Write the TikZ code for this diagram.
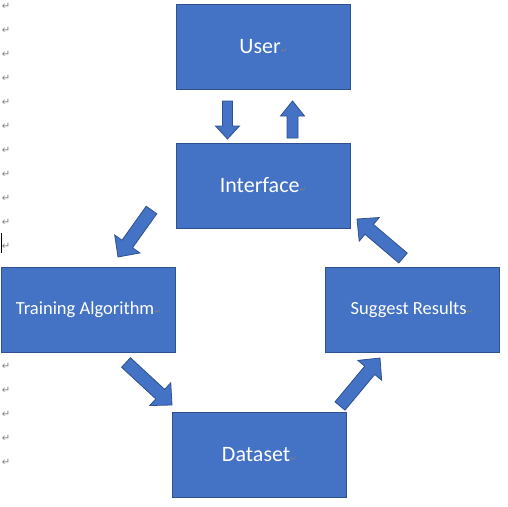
\documentclass[tikz,border=0pt]{standalone}
\usepackage{fontspec}
\setmainfont{Carlito}
\newfontfamily\markfont{DejaVu Sans}
\usetikzlibrary{calc}

\definecolor{boxblue}{HTML}{4472C4}
\definecolor{boxedge}{HTML}{2F528F}
\definecolor{markgray}{HTML}{7F7F7F}

% paragraph mark
\newcommand{\pmark}{{\markfont\fontsize{8}{8}\selectfont\color{markgray}\char"21B5}}

% block arrow: tail, tip, shaft half width, head half width, head length
\newcommand{\blockarrow}[5]{%
  \draw[barrow] let \p1=($(#2)-(#1)$), \n1={atan2(\y1,\x1)}, \n2={veclen(\x1,\y1)} in
    [shift={(#1)}, rotate=\n1]
    (0pt,-#3pt) -- ({\n2-#5pt},-#3pt) -- ({\n2-#5pt},-#4pt) -- (\n2,0pt)
    -- ({\n2-#5pt},#4pt) -- ({\n2-#5pt},#3pt) -- (0pt,#3pt) -- cycle;}

\tikzset{
  box/.style={draw=boxedge, fill=boxblue, line width=1pt, minimum width=174pt,
    minimum height=85pt, inner sep=0pt, text=white, font=\fontsize{22}{26}\selectfont},
  smallbox/.style={box, font=\fontsize{18.5}{22}\selectfont},
  barrow/.style={draw=boxedge, fill=boxblue, line width=0.8pt, line join=miter},
  marginmark/.style={inner sep=0pt, text=markgray, font=\markfont\fontsize{10}{10}\selectfont},
}

\begin{document}
\begin{tikzpicture}[x=1pt, y=-1pt]
            \useasboundingbox (0,0) rectangle (508,506);

            % Paragraph marks in the margin
            \foreach \k in {0,...,19}
                \node[marginmark] (mark\k) at (6,{6+24*\k}) {\char"21B5};
            \coordinate (cur_a) at (1.5,233);
            \coordinate (cur_b) at (1.5,253);
            \draw[line width=1pt] (cur_a) -- (cur_b);

            % Boxes
            \node[box] (user) at (263.5,47) {User\pmark};
            \node[box] (iface) at (263,185.5) {Interface\pmark};
            \node[smallbox] (train) at (88.5,310) {Training Algorithm\pmark};
            \node[smallbox] (suggest) at (412,309.5) {Suggest Results\pmark};
            \node[box] (data) at (259.5,455) {Dataset\pmark};

            % Arrow ends
            \coordinate (A_down_s) at (227.5,101);
            \coordinate (A_down_e) at (227.5,139);
            \coordinate (A_up_s) at (292.5,138);
            \coordinate (A_up_e) at (292.5,101);
            \coordinate (A_train_s) at (151.5,210);
            \coordinate (A_train_e) at (118,257);
            \coordinate (A_data_s) at (126,362.5);
            \coordinate (A_data_e) at (172,405);
            \coordinate (A_sugg_s) at (340,406);
            \coordinate (A_sugg_e) at (380,358);
            \coordinate (A_iface_s) at (403,258);
            \coordinate (A_iface_e) at (357,219);

            % Draw arrows
            \blockarrow{A_down_s}{A_down_e}{5}{12}{13}
            \blockarrow{A_up_s}{A_up_e}{5.5}{12}{15}
            \blockarrow{A_train_s}{A_train_e}{6.5}{15.5}{16}
            \blockarrow{A_data_s}{A_data_e}{6.5}{15.5}{16}
            \blockarrow{A_sugg_s}{A_sugg_e}{6.5}{15.5}{16}
            \blockarrow{A_iface_s}{A_iface_e}{6.5}{15.5}{16}
        \end{tikzpicture}
\end{document}
